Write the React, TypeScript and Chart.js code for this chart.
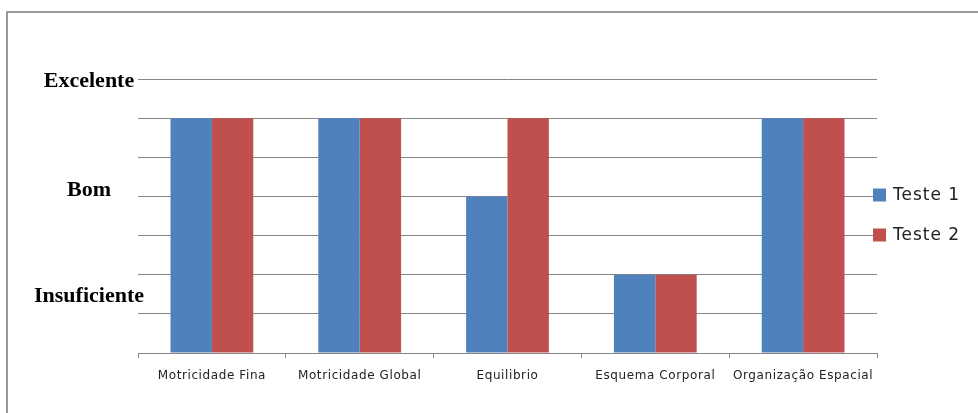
import React, { useEffect, useRef } from "react";
import { Chart, registerables } from "chart.js";
Chart.register(...registerables);

const categories = ["Motricidade Fina", "Motricidade Global", "Equilibrio", "Esquema Corporal", "Organização Espacial"];
const seriesNames = ["Teste 1", "Teste 2"];
const teste1 = [6, 6, 4, 2, 6];
const teste2 = [6, 6, 6, 2, 6];
const levelLabels = ["Excelente", "Bom", "Insuficiente"];
const levelValues = [7, 4.2, 1.5];
const yMin = 0;
const yMax = 7;
const colors = ["#4F81BD", "#C0504D"];

const levelPlugin = {
  id: "levelLabels",
  afterDraw(chart: any) {
    const { ctx, chartArea, scales } = chart;
    ctx.save();
    ctx.font = "bold 22px 'Liberation Serif', serif";
    ctx.fillStyle = "#000";
    ctx.textAlign = "center";
    ctx.textBaseline = "middle";
    levelLabels.forEach((t, i) => {
      ctx.fillText(t, chartArea.left - 49, scales.y.getPixelForValue(levelValues[i]) + 2);
    });
    ctx.restore();
  },
};

const xLabelPlugin = {
  id: "xLabels",
  afterDraw(chart: any) {
    const { ctx, chartArea, scales } = chart;
    ctx.save();
    ctx.font = "12px 'DejaVu Sans', sans-serif";
    (ctx as any).letterSpacing = "0.6px";
    ctx.fillStyle = "#222";
    ctx.textAlign = "center";
    ctx.textBaseline = "middle";
    chart.data.labels.forEach((t: string, i: number) => {
      ctx.fillText(t, scales.x.getPixelForValue(i), chartArea.bottom + 23);
    });
    ctx.restore();
  },
};

const legendPlugin = {
  id: "customLegend",
  afterDraw(chart: any) {
    const { ctx, chartArea } = chart;
    ctx.save();
    ctx.font = "17px 'DejaVu Sans', sans-serif";
    (ctx as any).letterSpacing = "1px";
    ctx.textBaseline = "middle";
    ctx.textAlign = "left";
    chart.data.datasets.forEach((ds: any, i: number) => {
      const cy = 195 + i * 40;
      const x0 = chartArea.right - 4;
      ctx.fillStyle = ds.backgroundColor;
      ctx.fillRect(x0, cy - 6.5, 13, 13);
      ctx.fillStyle = "#222";
      ctx.fillText(ds.label, x0 + 20, cy + 1);
    });
    ctx.restore();
  },
};

export default function App() {
  const ref = useRef<HTMLCanvasElement>(null);
  useEffect(() => {
    const chart = new Chart(ref.current!, {
      type: "bar",
      data: {
        labels: categories,
        datasets: [
          { label: seriesNames[0], data: teste1, backgroundColor: colors[0], categoryPercentage: 0.56, barPercentage: 1 },
          { label: seriesNames[1], data: teste2, backgroundColor: colors[1], categoryPercentage: 0.56, barPercentage: 1 },
        ],
      },
      options: {
        animation: false,
        responsive: false,
        maintainAspectRatio: false,
        layout: { padding: { left: 138, right: 101, top: 79, bottom: 20 } },
        plugins: { legend: { display: false }, tooltip: { enabled: false } },
        scales: {
          x: {
            grid: { display: true, drawOnChartArea: false, tickLength: 5, color: "#868686", offset: true },
            border: { display: true, color: "#868686", width: 1 },
            ticks: { display: false },
            afterFit(scale: any) { scale.height = 40; },
          },
          y: {
            min: yMin,
            max: yMax,
            ticks: { display: false, stepSize: 1 },
            grid: { display: true, drawTicks: false, color: "#868686" },
            border: { display: false },
            afterFit(scale: any) { scale.width = 0; },
          },
        },
      },
      plugins: [levelPlugin, xLabelPlugin, legendPlugin],
    });
    return () => chart.destroy();
  }, []);
  return (
    <div style={{ position: "fixed", left: 0, top: 0, width: 978, height: 413, overflow: "hidden", background: "#fff" }}>
      <div style={{ position: "absolute", left: 6, top: 11, width: 1000, height: 500, borderTop: "2px solid #9a9a9a", borderLeft: "2px solid #9a9a9a" }} />
      <canvas ref={ref} width={978} height={413} style={{ position: "absolute", left: 0, top: 0, width: 978, height: 413 }} />
    </div>
  );
}
